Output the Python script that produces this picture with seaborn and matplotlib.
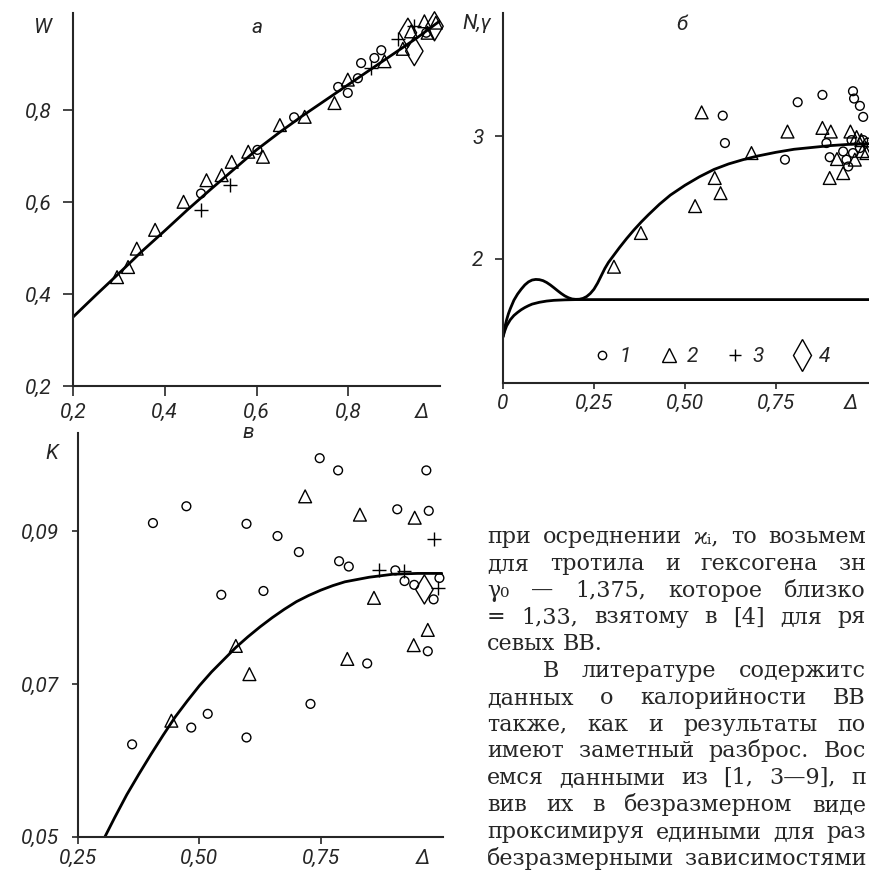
import matplotlib
matplotlib.use('Agg')
import matplotlib.pyplot as plt
import seaborn as sns
from matplotlib.lines import Line2D

# ---- panel a: W(Delta) ----
A_CURVE_X = [0.20, 0.25, 0.30, 0.35, 0.40, 0.45, 0.50, 0.55, 0.60, 0.65, 0.70, 0.75, 0.80, 0.85, 0.90, 0.95, 1.00]
A_CURVE_Y = [0.350, 0.398, 0.445, 0.493, 0.538, 0.584, 0.628, 0.671, 0.714, 0.752, 0.788, 0.822, 0.856, 0.890, 0.924, 0.958, 0.995]
A_C1_X = [0.479, 0.602, 0.682, 0.778, 0.799, 0.821, 0.828, 0.857, 0.872, 0.970]
A_C1_Y = [0.619, 0.714, 0.785, 0.851, 0.838, 0.870, 0.903, 0.914, 0.931, 0.969]
A_C2_X = [0.296, 0.320, 0.339, 0.379, 0.441, 0.491, 0.524, 0.546, 0.582, 0.614, 0.651, 0.705,
          0.770, 0.799, 0.879, 0.919, 0.937, 0.966, 0.991, 0.973]
A_C2_Y = [0.437, 0.459, 0.499, 0.540, 0.601, 0.648, 0.659, 0.688, 0.710, 0.699, 0.768, 0.786,
          0.816, 0.867, 0.907, 0.934, 0.972, 0.994, 0.991, 0.969]
A_C3_X = [0.480, 0.542, 0.850, 0.908, 0.944]
A_C3_Y = [0.583, 0.637, 0.892, 0.956, 0.983]
A_C4_X = [0.930, 0.944, 0.988]
A_C4_Y = [0.969, 0.929, 0.983]
A_XTICKS = [0.2, 0.4, 0.6, 0.8]
A_XLABELS = ['0,2', '0,4', '0,6', '0,8']
A_YTICKS = [0.2, 0.4, 0.6, 0.8]
A_YLABELS = ['0,2', '0,4', '0,6', '0,8']

# ---- panel b: N, gamma(Delta) ----
B_N_X = [0.0, 0.005, 0.01, 0.015, 0.02, 0.03, 0.04, 0.05, 0.06, 0.07, 0.08, 0.09, 0.10, 0.11,
         0.12, 0.13, 0.14, 0.15, 0.16, 0.17, 0.18, 0.19, 0.20, 0.21, 0.22, 0.23, 0.24, 0.25,
         0.26, 0.27, 0.28, 0.29, 0.30, 0.32, 0.34, 0.36, 0.38, 0.40, 0.43, 0.46, 0.50, 0.54,
         0.58, 0.62, 0.66, 0.70, 0.75, 0.80, 0.85, 0.90, 0.95, 1.00, 1.05]
B_N_Y = [1.36, 1.44, 1.50, 1.55, 1.59, 1.66, 1.71, 1.75, 1.785, 1.81, 1.825, 1.83, 1.828, 1.82,
         1.805, 1.785, 1.762, 1.738, 1.715, 1.695, 1.68, 1.67, 1.667, 1.668, 1.675, 1.69, 1.715, 1.75,
         1.80, 1.86, 1.92, 1.97, 2.01, 2.09, 2.165, 2.235, 2.30, 2.36, 2.445, 2.52, 2.60, 2.67,
         2.73, 2.775, 2.81, 2.84, 2.87, 2.895, 2.91, 2.925, 2.935, 2.94, 2.945]
B_G_X = [0.0, 0.005, 0.01, 0.02, 0.03, 0.04, 0.05, 0.06, 0.07, 0.08, 0.10, 0.12, 0.14, 0.17,
         0.20, 0.40, 0.70, 1.05]
B_G_Y = [1.36, 1.41, 1.45, 1.50, 1.535, 1.56, 1.582, 1.60, 1.615, 1.628, 1.643, 1.653, 1.659, 1.663,
         1.665, 1.665, 1.665, 1.665]
B_C1_X = [0.604, 0.610, 0.810, 0.878, 0.775, 0.889, 0.898, 0.935, 0.944, 0.949, 0.962, 0.958,
          0.981, 0.990, 1.003, 0.962, 0.965, 0.981, 0.990]
B_C1_Y = [3.17, 2.946, 3.28, 3.34, 2.81, 2.946, 2.83, 2.877, 2.81, 2.754, 2.864, 2.97,
          2.905, 2.97, 2.95, 3.37, 3.31, 3.25, 3.16]
B_C2_X = [0.305, 0.379, 0.528, 0.546, 0.582, 0.598, 0.683, 0.782, 0.878, 0.901, 0.898, 0.918,
          0.935, 0.955, 0.972, 0.985, 0.967, 0.988, 0.999]
B_C2_Y = [1.934, 2.21, 2.43, 3.197, 2.66, 2.536, 2.864, 3.04, 3.07, 3.04, 2.66, 2.815,
          2.70, 3.04, 2.995, 2.97, 2.81, 2.88, 2.864]
B_XTICKS = [0, 0.25, 0.50, 0.75]
B_XLABELS = ['0', '0,25', '0,50', '0,75']
B_YTICKS = [2, 3]
B_YLABELS = ['2', '3']
LEGEND_LABELS = ['1', '2', '3', '4']

# ---- panel c: K(Delta) ----
C_CURVE_X = [0.305, 0.325, 0.35, 0.375, 0.40, 0.425, 0.45, 0.475, 0.50, 0.525, 0.55, 0.575,
             0.60, 0.625, 0.65, 0.675, 0.70, 0.725, 0.75, 0.775, 0.80, 0.825, 0.85, 0.875,
             0.90, 0.95, 1.00]
C_CURVE_Y = [0.0500, 0.0525, 0.0555, 0.0582, 0.0608, 0.0633, 0.0657, 0.0678, 0.0698, 0.0716,
             0.0732, 0.0748, 0.0762, 0.0775, 0.0787, 0.0798, 0.0808, 0.0816, 0.0823, 0.0829,
             0.0834, 0.0837, 0.0840, 0.0842, 0.0844, 0.0845, 0.0845]
C_C1_X = [0.361, 0.404, 0.473, 0.483, 0.517, 0.545, 0.597, 0.597, 0.632, 0.661, 0.705, 0.729,
          0.748, 0.786, 0.788, 0.808, 0.846, 0.908, 0.904, 0.923, 0.943, 0.968, 0.973, 0.971,
          0.983, 0.995]
C_C1_Y = [0.0621, 0.0911, 0.0933, 0.0643, 0.0661, 0.0817, 0.0910, 0.0630, 0.0822, 0.0894,
          0.0873, 0.0674, 0.0996, 0.0980, 0.0861, 0.0854, 0.0727, 0.0929, 0.0849, 0.0835,
          0.0830, 0.0980, 0.0927, 0.0743, 0.0811, 0.0839]
C_C2_X = [0.718, 0.831, 0.944, 0.860, 0.575, 0.603, 0.442, 0.805, 0.942, 0.971]
C_C2_Y = [0.0946, 0.0922, 0.0918, 0.0813, 0.0750, 0.0713, 0.0652, 0.0733, 0.0751, 0.0771]
C_C3_X = [0.983, 0.871, 0.921, 0.993]
C_C3_Y = [0.0890, 0.0850, 0.0848, 0.0826]
C_C4_X = [0.964]
C_C4_Y = [0.0824]
C_XTICKS = [0.25, 0.50, 0.75]
C_XLABELS = ['0,25', '0,50', '0,75']
C_YTICKS = [0.05, 0.07, 0.09]
C_YLABELS = ['0,05', '0,07', '0,09']

# ---- page text to the right of panel c ----
TEXT_LINES = [
    'при осреднении ϰᵢ, то возьмем',
    'для тротила и гексогена зн',
    'γ₀ — 1,375, которое близко',
    '= 1,33, взятому в [4] для ря',
    'севых ВВ.',
    'В литературе содержитс',
    'данных о калорийности ВВ',
    'также, как и результаты по',
    'имеют заметный разброс. Вос',
    'емся данными из [1, 3—9], п',
    'вив их в безразмерном виде',
    'проксимируя едиными для раз',
    'безразмерными зависимостями',
]
JUSTIFY = [True, True, True, True, False, True, True, True, True, True, True, True, True]

W_PX, H_PX = 869, 874
NUM_FONT = ['Roboto', 'DejaVu Sans']

sns.set_style('ticks')
plt.rcParams['font.family'] = ['DejaVu Sans']

MK = {
    1: dict(marker='o', s=40, facecolor='none', edgecolor='k', linewidth=1.0),
    2: dict(marker='^', s=85, facecolor='none', edgecolor='k', linewidth=1.0),
    3: dict(marker='+', s=90, color='k', edgecolor=None, linewidth=1.0),
    4: dict(marker='d', s=220, facecolor='none', edgecolor='k', linewidth=1.0),
}


def pts(ax, xs, ys, kind):
    sns.scatterplot(x=xs, y=ys, ax=ax, legend=False, zorder=3, clip_on=False, **MK[kind])


def curve(ax, xs, ys):
    sns.lineplot(x=xs, y=ys, ax=ax, color='k', linewidth=2.0, estimator=None, sort=False)


def style_axes(ax, xt, xl, yt, yl, xlen, xpad, ylen, ypad):
    sns.despine(ax=ax)
    for s in ('left', 'bottom'):
        ax.spines[s].set_linewidth(1.5)
    ax.set_xticks(xt)
    ax.set_xticklabels(xl, fontstyle='italic', fontsize=15, family=NUM_FONT)
    ax.set_yticks(yt)
    ax.set_yticklabels(yl, fontstyle='italic', fontsize=15, family=NUM_FONT)
    ax.tick_params(axis='x', direction='out', length=xlen, width=1.2, pad=xpad)
    ax.tick_params(axis='y', direction='out', length=ylen, width=1.2, pad=ypad)
    ax.set_xlabel('')
    ax.set_ylabel('')


def delta_label(ax, x, off):
    ax.annotate('Δ', xy=(x, 0), xycoords=('data', 'axes fraction'), xytext=(0, -off),
                textcoords='offset points', ha='center', va='top', fontsize=15,
                fontstyle='italic', family=NUM_FONT)


def lab(ax, x, y, s):
    ax.text(x, y, s, transform=ax.transAxes, ha='center', va='center', fontsize=15,
            fontstyle='italic', family=NUM_FONT)


fig = plt.figure(figsize=(W_PX / 100, H_PX / 100), dpi=100)

# panel a
ax_a = fig.add_axes([73 / W_PX, 1 - 386 / H_PX, 367 / W_PX, 373 / H_PX])
curve(ax_a, A_CURVE_X, A_CURVE_Y)
pts(ax_a, A_C1_X, A_C1_Y, 1)
pts(ax_a, A_C2_X, A_C2_Y, 2)
pts(ax_a, A_C3_X, A_C3_Y, 3)
pts(ax_a, A_C4_X, A_C4_Y, 4)
ax_a.set_xlim(0.2, 1.0)
ax_a.set_ylim(0.2, 1.012)
style_axes(ax_a, A_XTICKS, A_XLABELS, A_YTICKS, A_YLABELS, 7, 5, 7, 8)
delta_label(ax_a, 0.96, 12)
lab(ax_a, -0.084, 0.962, 'W')
lab(ax_a, 0.50, 0.962, 'а')

# panel b
ax_b = fig.add_axes([503 / W_PX, 1 - 382.7 / H_PX, 382 / W_PX, 369.7 / H_PX])
curve(ax_b, B_N_X, B_N_Y)
curve(ax_b, B_G_X, B_G_Y)
pts(ax_b, B_C1_X, B_C1_Y, 1)
pts(ax_b, B_C2_X, B_C2_Y, 2)
ax_b.set_xlim(0, 1.05)
ax_b.set_ylim(0.985, 4.01)
style_axes(ax_b, B_XTICKS, B_XLABELS, B_YTICKS, B_YLABELS, 4, 4, 6, 8)
delta_label(ax_b, 0.955, 8)
lab(ax_b, -0.068, 0.972, 'N,γ')
lab(ax_b, 0.469, 0.968, 'б')
handles = [
    Line2D([], [], ls='', marker='o', ms=6, mfc='none', mec='k', mew=1.0),
    Line2D([], [], ls='', marker='^', ms=10, mfc='none', mec='k', mew=1.0),
    Line2D([], [], ls='', marker='+', ms=9, color='k', mew=1.0),
    Line2D([], [], ls='', marker='d', ms=16, mfc='none', mec='k', mew=1.0),
]
ax_b.legend(handles, LEGEND_LABELS, ncol=4, frameon=False, loc='center',
            bbox_to_anchor=(0.545, 0.07), handlelength=1.0, handletextpad=0.35,
            columnspacing=1.3, prop=dict(family=NUM_FONT, style='italic', size=15))

# panel c
ax_c = fig.add_axes([78.3 / W_PX, 1 - 836.7 / H_PX, 365 / W_PX, 403.7 / H_PX])
curve(ax_c, C_CURVE_X, C_CURVE_Y)
pts(ax_c, C_C1_X, C_C1_Y, 1)
pts(ax_c, C_C2_X, C_C2_Y, 2)
pts(ax_c, C_C3_X, C_C3_Y, 3)
pts(ax_c, C_C4_X, C_C4_Y, 4)
ax_c.set_xlim(0.25, 1.003)
ax_c.set_ylim(0.05, 0.1029)
style_axes(ax_c, C_XTICKS, C_XLABELS, C_YTICKS, C_YLABELS, 5, 4, 4, 10)
delta_label(ax_c, 0.96, 9)
lab(ax_c, -0.072, 0.95, 'K')
lab(ax_c, 0.465, 1.0, 'в')

# justified page text
renderer = fig.canvas.get_renderer()
TXT = dict(fontsize=16, family=['DejaVu Serif', 'DejaVu Sans'], va='baseline', ha='left')
for i, (line, just) in enumerate(zip(TEXT_LINES, JUSTIFY)):
    y = 1 - (543 + 26.8 * i) / H_PX
    x0 = 543 if i == 5 else 487
    words = line.split(' ')
    arts = [fig.text(0, y, w, **TXT) for w in words]
    widths = [a.get_window_extent(renderer).width for a in arts]
    space = 8.0
    if just and len(words) > 1:
        space = max(space, (866 - x0 - sum(widths)) / (len(words) - 1))
    x = x0
    for a, w in zip(arts, widths):
        a.set_x(x / W_PX)
        x += w + space

fig.savefig('out.png', dpi=100)
